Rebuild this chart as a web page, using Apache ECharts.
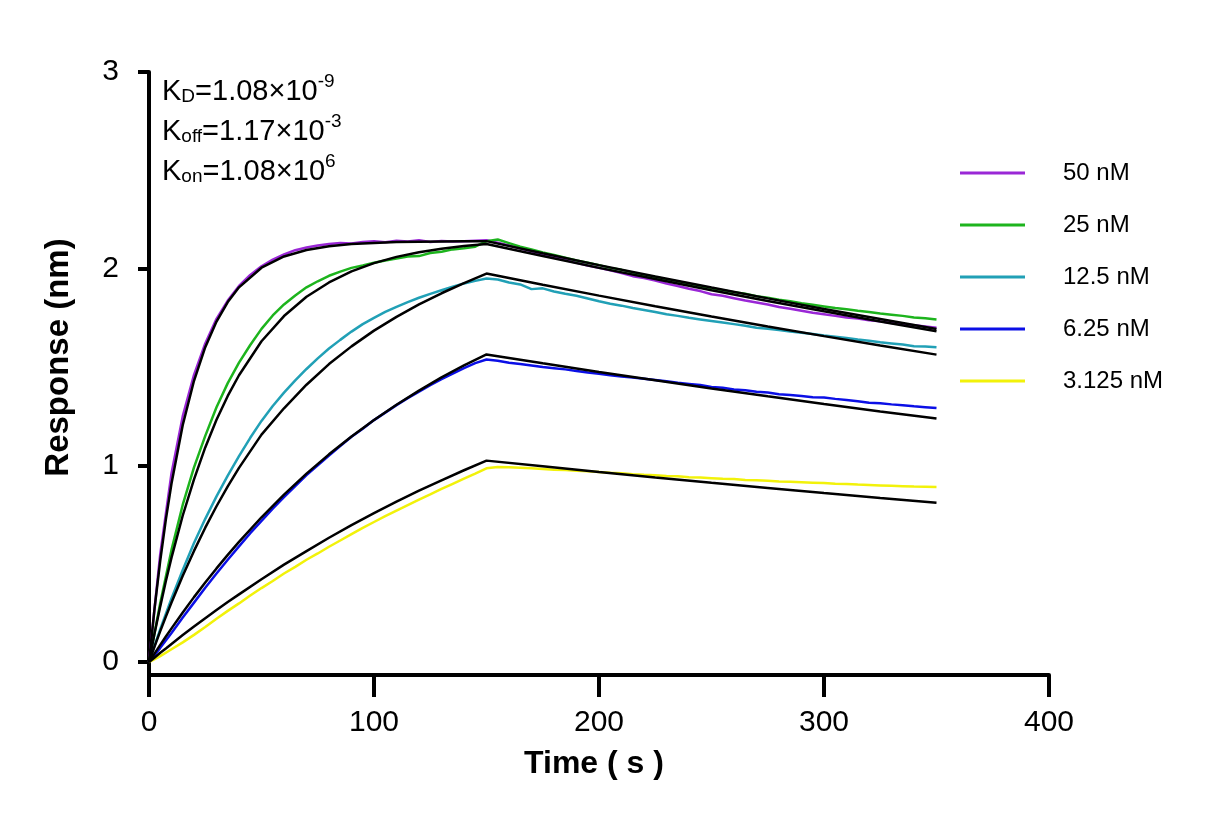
<!DOCTYPE html>
<html>
<head>
<meta charset="utf-8">
<script src="https://cdn.jsdelivr.net/npm/echarts@6/dist/echarts.min.js"></script>
<style>
html,body{margin:0;padding:0;background:#fff;}
#chart{width:1205px;height:825px;}
</style>
</head>
<body>
<div id="chart"></div>
<script>
// ---- data ----
const seriesNames = ['50 nM', '25 nM', '12.5 nM', '6.25 nM', '3.125 nM'];
const xTicks = [0, 100, 200, 300, 400];
const yTicks = [0, 1, 2, 3];

const dataTime = [0,5,10,15,20,25,30,35,40,45,50,55,60,65,70,75,80,85,90,95,100,105,110,115,120,125,130,135,140,145,150,
  155,160,165,170,175,180,185,190,195,200,205,210,215,220,225,230,235,240,245,250,255,260,265,270,275,280,285,290,295,300,
  305,310,315,320,325,330,335,340,345,350];

const data50 = [0.00,0.55,0.96,1.25,1.46,1.62,1.745,1.838,1.912,1.968,2.012,2.046,2.072,2.094,2.108,2.118,2.126,2.131,2.128,2.136,2.140,
  2.134,2.142,2.138,2.144,2.136,2.141,2.138,2.139,2.142,2.145,
  2.132,2.118,2.102,2.088,2.070,2.058,2.044,2.030,2.016,2.004,1.992,1.978,1.962,1.952,1.940,1.925,1.912,1.898,1.886,1.870,
  1.862,1.850,1.838,1.828,1.818,1.805,1.796,1.786,1.776,1.768,1.760,1.752,1.746,1.738,1.732,1.724,1.718,1.712,1.706,1.700];

const data25 = [0.00,0.30,0.57,0.80,0.99,1.15,1.295,1.418,1.522,1.612,1.694,1.762,1.818,1.864,1.905,1.936,1.964,1.985,2.004,2.016,2.030,
  2.042,2.052,2.062,2.064,2.080,2.086,2.098,2.104,2.112,2.140,
  2.148,2.130,2.112,2.098,2.082,2.070,2.056,2.042,2.030,2.018,2.004,1.994,1.980,1.968,1.958,1.945,1.935,1.922,1.912,1.900,
  1.890,1.880,1.872,1.860,1.852,1.842,1.834,1.824,1.816,1.808,1.800,1.794,1.786,1.780,1.772,1.766,1.760,1.752,1.748,1.742];

const data12 = [0.00,0.167,0.323,0.468,0.605,0.728,0.842,0.948,1.047,1.140,1.226,1.302,1.370,1.432,1.490,1.544,1.594,1.638,1.680,1.718,1.750,
  1.780,1.806,1.830,1.852,1.872,1.890,1.908,1.925,1.938,1.950,
  1.945,1.930,1.920,1.896,1.900,1.884,1.872,1.862,1.848,1.834,1.822,1.812,1.800,1.790,1.780,1.768,1.760,1.750,1.742,1.734,
  1.726,1.718,1.710,1.700,1.694,1.688,1.680,1.674,1.668,1.660,1.654,1.648,1.640,1.634,1.626,1.620,1.614,1.606,1.604,1.600];

const data6 = [0.00,0.072,0.148,0.226,0.302,0.378,0.450,0.520,0.588,0.655,0.718,0.780,0.838,0.895,0.950,1.000,1.050,1.098,1.145,1.186,1.230,
  1.268,1.306,1.342,1.375,1.408,1.438,1.466,1.494,1.520,1.538,
  1.532,1.522,1.515,1.508,1.500,1.494,1.488,1.480,1.472,1.466,1.458,1.452,1.446,1.440,1.434,1.428,1.420,1.414,1.408,1.398,
  1.394,1.386,1.382,1.374,1.370,1.362,1.358,1.352,1.346,1.345,1.338,1.332,1.326,1.318,1.316,1.310,1.306,1.300,1.296,1.292];

const data3 = [0.00,0.030,0.065,0.100,0.138,0.178,0.220,0.260,0.298,0.338,0.376,0.412,0.450,0.484,0.520,0.552,0.586,0.618,0.650,0.682,0.712,
  0.742,0.770,0.798,0.826,0.852,0.880,0.906,0.932,0.958,0.985,
  0.992,0.990,0.988,0.985,0.982,0.978,0.976,0.972,0.970,0.966,0.962,0.960,0.955,0.952,0.950,0.946,0.944,0.940,0.938,0.935,
  0.932,0.930,0.926,0.924,0.922,0.918,0.916,0.914,0.912,0.910,0.906,0.905,0.902,0.900,0.898,0.896,0.894,0.892,0.891,0.890];

const fitTime = [0,2.5,5,7.5,10,15,20,25,30,35,40,50,60,70,80,90,100,110,120,130,140,150,175,200,225,250,275,300,325,350];
const fit50 = [0,0.276,0.516,0.725,0.908,1.205,1.430,1.601,1.731,1.830,1.905,2.005,2.062,2.095,2.114,2.125,2.131,2.135,2.137,2.138,2.139,2.140,2.078,2.018,1.960,1.904,1.849,1.795,1.744,1.693];
const fit25 = [0,0.147,0.283,0.412,0.531,0.745,0.929,1.091,1.232,1.353,1.458,1.631,1.759,1.857,1.930,1.986,2.028,2.060,2.083,2.101,2.115,2.125,2.064,2.004,1.947,1.890,1.836,1.783,1.731,1.682];
const fit12 = [0,0.080,0.157,0.231,0.303,0.439,0.565,0.683,0.792,0.893,0.987,1.156,1.290,1.410,1.515,1.605,1.685,1.755,1.818,1.875,1.927,1.975,1.918,1.863,1.809,1.757,1.706,1.657,1.609,1.563];
const fit6 = [0,0.044,0.087,0.130,0.171,0.252,0.330,0.404,0.476,0.545,0.611,0.736,0.851,0.958,1.056,1.147,1.231,1.308,1.380,1.447,1.508,1.564,1.519,1.475,1.433,1.391,1.351,1.312,1.274,1.238];
const fit3 = [0,0.023,0.047,0.069,0.092,0.137,0.180,0.223,0.264,0.305,0.344,0.421,0.495,0.564,0.632,0.696,0.757,0.815,0.871,0.924,0.975,1.024,0.995,0.966,0.938,0.911,0.885,0.859,0.834,0.810];

const colors = ['#9a27d6', '#1db41d', '#21a0b6', '#0b0fe6', '#f2f20a'];

// ---- build ----
const pair = (xs, ys) => xs.map((x, i) => [x, ys[i]]);
const measured = [data50, data25, data12, data6, data3];
const fits = [fit50, fit25, fit12, fit6, fit3];

const series = [];
measured.forEach((d, i) => {
  series.push({
    name: seriesNames[i], type: 'line', data: pair(dataTime, d),
    showSymbol: false, symbol: 'none', color: colors[i],
    lineStyle: { width: 2.5, color: colors[i] }, z: 2, silent: true
  });
});
fits.forEach((d, i) => {
  series.push({
    name: 'fit ' + seriesNames[i], type: 'line', data: pair(fitTime, d),
    showSymbol: false, symbol: 'none', color: '#000',
    lineStyle: { width: 2.5, color: '#000' }, z: 3, silent: true
  });
});

const FONT = 'Liberation Sans, Arial, sans-serif';
const chart = echarts.init(document.getElementById('chart'), null, { renderer: 'canvas' });

const annoRich = {
  b: { fontSize: 29, fontFamily: FONT, color: '#000', lineHeight: 36, verticalAlign: 'bottom' },
  sub: { fontSize: 19, fontFamily: FONT, color: '#000', lineHeight: 36, verticalAlign: 'bottom' },
  sup: { fontSize: 19, fontFamily: FONT, color: '#000', lineHeight: 36, verticalAlign: 'top', padding: [2, 0, 0, 0] }
};

chart.setOption({
  animation: false,
  backgroundColor: '#fff',
  grid: { left: 149, right: 156, top: 72, bottom: 150, outerBoundsMode: 'none', containLabel: false },
  xAxis: {
    type: 'value', min: 0, max: 400, interval: 100,
    name: 'Time ( s )', nameLocation: 'middle', nameGap: 73,
    nameTextStyle: { fontSize: 32, fontWeight: 'bold', fontFamily: FONT, color: '#000', padding: [0, 10, 0, 0] },
    axisLine: { show: true, onZero: false, lineStyle: { color: '#000', width: 4 } },
    axisTick: { show: true, length: 22, lineStyle: { color: '#000', width: 4 } },
    axisLabel: { fontSize: 30, fontFamily: FONT, color: '#000', margin: 33, showMinLabel: true, showMaxLabel: true,
      customValues: xTicks },
    splitLine: { show: false }
  },
  yAxis: {
    type: 'value', min: -0.066, max: 3,
    name: 'Response (nm)', nameLocation: 'middle', nameGap: 74,
    nameTextStyle: { fontSize: 33, fontWeight: 'bold', fontFamily: FONT, color: '#000', padding: [0, 0, 0, 32] },
    axisLine: { show: true, onZero: false, lineStyle: { color: '#000', width: 4 } },
    axisTick: { show: true, length: 11, lineStyle: { color: '#000', width: 4 }, customValues: yTicks },
    axisLabel: { fontSize: 30, fontFamily: FONT, color: '#000', margin: 30, customValues: yTicks },
    splitLine: { show: false }
  },
  legend: {
    data: seriesNames,
    orient: 'vertical', left: 955, top: 155,
    icon: 'rect', itemWidth: 65, itemHeight: 3, itemGap: 26,
    textStyle: { fontSize: 24, fontFamily: FONT, color: '#000', lineHeight: 26, padding: [0, 0, 0, 33] },
    selectedMode: false
  },
  graphic: [
    { type: 'text', left: 162, top: 70, style: { text: '{b|K}{sub|D}{b|=1.08×10}{sup|-9}', rich: annoRich } },
    { type: 'text', left: 162, top: 110, style: { text: '{b|K}{sub|off}{b|=1.17×10}{sup|-3}', rich: annoRich } },
    { type: 'text', left: 162, top: 150, style: { text: '{b|K}{sub|on}{b|=1.08×10}{sup|6}', rich: annoRich } }
  ],
  series: series
});
</script>
</body>
</html>
